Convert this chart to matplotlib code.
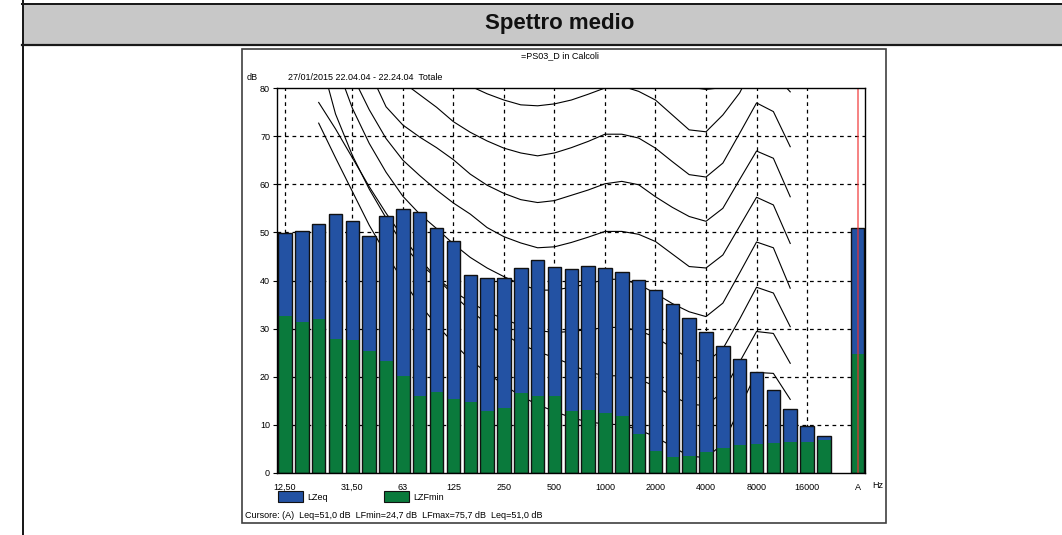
import matplotlib
matplotlib.use("Agg")
import matplotlib.pyplot as plt
from matplotlib.patches import Rectangle
from matplotlib.lines import Line2D

plt.rcParams['font.family'] = ['Liberation Sans', 'DejaVu Sans']

# ---------------- data ----------------
bands = ["12,50", "16", "20", "25", "31,50", "40", "50", "63", "80", "100", "125", "160",
         "200", "250", "315", "400", "500", "630", "800", "1000", "1250", "1600", "2000",
         "2500", "3150", "4000", "5000", "6300", "8000", "10000", "12500", "16000", "20000"]
lzeq = [49.9, 50.3, 51.7, 53.9, 52.3, 49.3, 53.3, 54.9, 54.2, 50.9, 48.3, 41.2, 40.6,
        40.6, 42.6, 44.2, 42.9, 42.4, 43.1, 42.6, 41.8, 40.2, 38.1, 35.1, 32.2, 29.2,
        26.3, 23.7, 20.9, 17.3, 13.3, 9.7, 7.7]
lzfmin = [32.7, 31.4, 31.9, 27.9, 27.7, 25.4, 23.3, 20.2, 16.1, 16.9, 15.3, 14.8, 12.9,
          13.5, 16.6, 16.1, 16.1, 12.9, 13.1, 12.4, 11.9, 8.1, 4.6, 3.3, 3.6, 4.4,
          5.2, 5.8, 6.0, 6.2, 6.5, 6.5, 6.9]
a_lzeq = 51.0
a_lzfmin = 24.7

# isophonic curves, bands 20 Hz .. 12500 Hz
curve_bands = bands[2:31]
phon10 = [72.7, 65.5, 58.5, 51.5, 45.5, 40.0, 35.0, 30.8, 27.0, 23.5, 20.8, 18.3, 16.0,
          14.2, 12.8, 11.5, 10.6, 10.2, 10.0, 9.0, 7.5, 5.5, 3.5, 3.2, 6.0, 13.5, 20.9,
          20.7, 15.3]
phon20 = [77.0, 71.5, 65.5, 59.5, 54.0, 49.0, 44.5, 40.5, 37.0, 33.8, 31.0, 28.8, 26.8,
          25.2, 24.0, 22.5, 21.0, 20.2, 20.2, 19.5, 18.0, 16.0, 14.3, 14.0, 16.9, 23.1,
          29.4, 29.0, 22.8]
phon30 = [87.5, 74.6, 66.0, 59.0, 53.0, 47.5, 43.5, 40.5, 37.8, 35.5, 33.5, 32.0, 30.6,
          29.6, 29.2, 29.4, 29.8, 30.2, 30.3, 29.6, 28.2, 26.0, 23.7, 23.0, 25.8, 32.0,
          38.6, 37.4, 30.4]
phon40 = [92.0, 85.3, 75.8, 68.5, 62.5, 57.5, 53.8, 50.8, 47.6, 44.8, 42.6, 40.8, 39.2,
          38.0, 38.0, 38.6, 39.3, 40.2, 40.3, 39.2, 37.3, 35.2, 33.5, 32.5, 35.3, 41.6,
          48.0, 46.8, 38.4]
phon50 = [96.0, 89.5, 82.6, 75.5, 69.5, 65.0, 61.8, 58.8, 56.1, 53.8, 51.0, 49.1, 47.8,
          46.8, 47.0, 47.9, 49.0, 50.2, 50.2, 49.6, 48.1, 45.5, 42.9, 42.6, 45.3, 51.3,
          57.3, 55.7, 47.7]
phon60 = [102.0, 96.0, 90.0, 83.6, 76.1, 72.3, 69.8, 67.6, 65.1, 62.1, 59.8, 58.1, 56.8,
          56.2, 56.6, 57.7, 58.8, 60.1, 60.6, 59.9, 57.4, 55.2, 53.3, 52.3, 55.0, 61.0,
          66.9, 65.4, 57.4]
phon70 = [105.0, 100.0, 95.0, 90.0, 85.0, 81.2, 78.6, 76.0, 73.0, 70.8, 69.0, 67.5, 66.5,
          65.9, 66.5, 67.6, 68.9, 70.4, 70.4, 69.6, 67.5, 64.7, 62.0, 61.5, 64.4, 70.6,
          76.9, 75.1, 67.8]
phon80 = [115.0, 110.0, 105.0, 100.0, 96.0, 92.0, 88.5, 85.5, 83.0, 80.4, 78.8, 77.5, 76.5,
          76.3, 76.7, 77.5, 78.7, 80.0, 80.4, 79.3, 77.5, 74.4, 71.3, 70.9, 74.4, 79.0,
          86.0, 83.0, 79.2]
phon90 = [120.0, 116.0, 112.0, 108.0, 105.0, 102.0, 99.0, 96.0, 93.5, 91.0, 89.0, 87.5,
          86.5, 86.3, 86.7, 87.5, 88.7, 90.0, 90.5, 89.3, 87.5, 84.3, 80.2, 79.7, 80.1,
          88.0, 95.0, 92.0, 89.0]

tick_labels = ["12,50", "31,50", "63", "125", "250", "500", "1000", "2000", "4000",
               "8000", "16000"]

# ---------------- figure ----------------
W, H = 1062, 535
fig = plt.figure(figsize=(W / 100, H / 100), dpi=100)
fig.patch.set_facecolor('white')

def fx(px):
    return px / W

def fy(py):
    return 1 - py / H

# header band
fig.add_artist(Rectangle((fx(22), fy(44)), fx(1062) - fx(22), fy(4) - fy(44),
                         transform=fig.transFigure, facecolor='#c8c8c8',
                         edgecolor='none', zorder=-2))
for (x0, y0, x1, y1, lw) in [(22, 3.5, 1062, 3.5, 2.0), (22, 44.5, 1062, 44.5, 2.2),
                             (22.5, 0, 22.5, 535, 2.0)]:
    fig.add_artist(Line2D([fx(x0), fx(x1)], [fy(y0), fy(y1)], transform=fig.transFigure,
                          color='#1a1a1a', lw=lw * 0.72, zorder=-1))
fig.text(fx(560), fy(24), "Spettro medio", ha='center', va='center', fontsize=16,
         fontweight='bold', family=['Liberation Sans Narrow', 'Liberation Sans'],
         color='#111111')

# chart frame
fig.add_artist(Rectangle((fx(242), fy(523)), fx(886) - fx(242), fy(49) - fy(523),
                         transform=fig.transFigure, facecolor='white',
                         edgecolor='#404040', lw=1.2, zorder=-1))

# main axes
x_left, x_right, y_top, y_bot = 277, 865, 88, 473
ax = fig.add_axes([fx(x_left), fy(y_bot), fx(x_right) - fx(x_left), fy(y_top) - fy(y_bot)])
ax.set_zorder(3)
ax.set_facecolor('white')
ax.set_xlim(-0.475, 34.44)
ax.set_ylim(0, 80)

idx = list(range(len(bands)))
tick_pos = [bands.index(t) for t in tick_labels]
a_pos = len(bands) + 1

# grid
for p in tick_pos:
    ax.axvline(p, color='black', lw=0.9, ls=(0, (3, 3)), zorder=0.5)
for v in range(10, 80, 10):
    ax.axhline(v, color='black', lw=0.9, ls=(0, (3, 3)), zorder=0.5)

# curves
cidx = [bands.index(b) for b in curve_bands]
for c in [phon10, phon20, phon30, phon40, phon50, phon60, phon70, phon80, phon90]:
    ax.plot(cidx, c, color='black', lw=0.8, zorder=1)

# bars
blue = '#2352a3'
green = '#0a7a3c'
bw = 0.8
xs = idx + [a_pos]
eq = lzeq + [a_lzeq]
mn = lzfmin + [a_lzfmin]
ax.bar(xs, eq, width=bw, color=blue, edgecolor='none', zorder=2)
ax.bar(xs, mn, width=bw, color=green, edgecolor='none', zorder=3)
ax.bar(xs, eq, width=bw, facecolor='none', edgecolor='#111111', lw=1.0, zorder=4)

# cursor line
ax.axvline(a_pos + 0.05, color='#f03030', lw=1.2, alpha=0.7, zorder=5)

for s in ax.spines.values():
    s.set_color('black')
    s.set_linewidth(1.0)
    s.set_zorder(6)

ax.set_yticks(range(0, 90, 10))
ax.set_yticklabels([str(v) for v in range(0, 90, 10)], fontsize=6.5)
ax.tick_params(axis='y', length=3, width=0.8, pad=2)
ax.set_xticks(tick_pos + [a_pos])
ax.set_xticklabels(tick_labels + ["A"], fontsize=6.5)
ax.tick_params(axis='x', length=0, pad=7)

fig.text(fx(872), fy(485), "Hz", ha='left', va='center', fontsize=6.5)

# texts
fig.text(fx(560), fy(56), "=PS03_D in Calcoli", ha='center', va='center', fontsize=6.5)
fig.text(fx(247), fy(77), "dB", ha='left', va='center', fontsize=6.5)
fig.text(fx(288), fy(77), "27/01/2015 22.04.04 - 22.24.04  Totale", ha='left',
         va='center', fontsize=6.5)

# legend
for (x0, col, lab) in [(278, blue, "LZeq"), (384, green, "LZFmin")]:
    fig.add_artist(Rectangle((fx(x0), fy(502)), fx(25), fy(491) - fy(502),
                             transform=fig.transFigure, facecolor=col,
                             edgecolor='#111111', lw=0.8))
    fig.text(fx(x0 + 29), fy(497), lab, ha='left', va='center', fontsize=6.5)

fig.text(fx(245), fy(515),
         "Cursore: (A)  Leq=51,0 dB  LFmin=24,7 dB  LFmax=75,7 dB  Leq=51,0 dB",
         ha='left', va='center', fontsize=6.5)

fig.savefig("out.png", dpi=100)
